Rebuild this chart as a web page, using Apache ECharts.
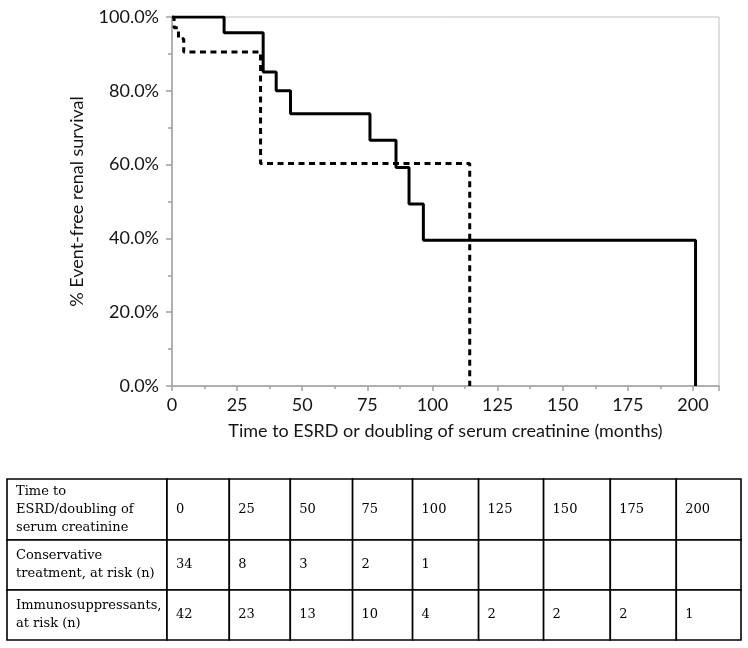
<!DOCTYPE html>
<html><head><meta charset="utf-8">
<script src="https://cdn.jsdelivr.net/npm/echarts@6/dist/echarts.min.js"></script>
<style>html,body{margin:0;padding:0;background:#fff}#c{width:748px;height:648px}</style>
</head><body><div id="c"></div>
<script>
// Kaplan-Meier curves (time in months, survival in %)
const immunoTimes = [0, 20, 35, 40, 45.5, 76, 86, 91, 96.5, 201];
const immunoSurv  = [100, 95.7, 85.1, 80, 73.8, 66.6, 59.2, 49.3, 39.5, 0];
const consTimes   = [0, 0.8, 2.5, 4.5, 34, 114.3];
const consSurv    = [100, 97.1, 94.1, 90.5, 60.3, 0];

// Number-at-risk table
const tableHeader  = 'Time to\nESRD/doubling of\nserum creatinine';
const rowLabels    = ['Conservative\ntreatment, at risk (n)', 'Immunosuppressants,\nat risk (n)'];
const tableTimes   = [0, 25, 50, 75, 100, 125, 150, 175, 200];
const consAtRisk   = [34, 8, 3, 2, 1, null, null, null, null];
const immunoAtRisk = [42, 23, 13, 10, 4, 2, 2, 2, 1];

// ---- layout (not data) ----
const ROW_EDGES = [0, 1.22, 2.22, 3.22];
const COL_EDGES = [0, 160, 222.3, 283.3, 345.6, 405.6, 471.6, 536.6, 603.3, 669.3, 734];
const AXIS_FONT = 'Lato';
const TXT = '#151515';

const zip = (a, b) => a.map((v, i) => [v, b[i]]);

// table cells: [column index, row index]
const cells = [];
const texts = [];
const tableRows = [[tableHeader, tableTimes], [rowLabels[0], consAtRisk], [rowLabels[1], immunoAtRisk]];
tableRows.forEach(([label, vals], r) => {
  cells.push([0, r]); texts.push(label);
  vals.forEach((v, i) => { cells.push([i + 1, r]); texts.push(v == null ? '' : String(v)); });
});

const chart = echarts.init(document.getElementById('c'));
chart.setOption({
  animation: false,
  backgroundColor: '#fff',
  grid: [
    { left: 172, top: 17, width: 547, height: 369, show: true, borderColor: '#c0c0c0', borderWidth: 1, backgroundColor: 'transparent' },
    { left: 7, top: 479, width: 734, height: 161 }
  ],
  xAxis: [
    {
      gridIndex: 0, type: 'value', min: 0, max: 210, interval: 25,
      name: 'Time to ESRD or doubling of serum creatinine (months)',
      nameLocation: 'middle', nameGap: 36,
      nameTextStyle: { fontFamily: AXIS_FONT, fontSize: 18, color: TXT },
      axisLine: { show: true, lineStyle: { color: '#a0a0a0', width: 1.5 } },
      axisTick: { show: true, length: 5, lineStyle: { color: '#a0a0a0', width: 1.5 } },
      minorTick: { show: true, splitNumber: 2, length: 3, lineStyle: { color: '#a0a0a0', width: 1.5 } },
      axisLabel: { fontFamily: AXIS_FONT, fontSize: 18, color: TXT, margin: 10, showMaxLabel: false,
                   formatter: v => (v % 25 === 0 ? String(v) : '') },
      splitLine: { show: false }
    },
    { gridIndex: 1, type: 'value', min: 0, max: COL_EDGES[COL_EDGES.length - 1], show: false }
  ],
  yAxis: [
    {
      gridIndex: 0, type: 'value', min: 0, max: 100, interval: 20,
      name: '% Event-free renal survival',
      nameLocation: 'middle', nameGap: 86, nameRotate: 90,
      nameTextStyle: { fontFamily: AXIS_FONT, fontSize: 18, color: TXT },
      axisLine: { show: true, lineStyle: { color: '#a0a0a0', width: 1.5 } },
      axisTick: { show: true, length: 6, lineStyle: { color: '#a0a0a0', width: 1.5 } },
      minorTick: { show: true, splitNumber: 2, length: 4, lineStyle: { color: '#a0a0a0', width: 1.5 } },
      axisLabel: { fontFamily: AXIS_FONT, fontSize: 18, color: TXT, margin: 13,
                   formatter: v => v.toFixed(1) + '%' },
      splitLine: { show: false }
    },
    { gridIndex: 1, type: 'value', min: 0, max: ROW_EDGES[ROW_EDGES.length - 1], inverse: true, show: false }
  ],
  series: [
    {
      type: 'line', xAxisIndex: 0, yAxisIndex: 0, step: 'end', symbol: 'none',
      data: zip(consTimes, consSurv),
      lineStyle: { color: '#000', width: 3, type: [6, 4.5] }
    },
    {
      type: 'line', xAxisIndex: 0, yAxisIndex: 0, step: 'end', symbol: 'none',
      data: zip(immunoTimes, immunoSurv),
      lineStyle: { color: '#000', width: 3 }
    },
    {
      type: 'custom', xAxisIndex: 1, yAxisIndex: 1, clip: false,
      data: cells,
      encode: { x: 0, y: 1 },
      renderItem: function (params, api) {
        const c = api.value(0), r = api.value(1);
        const p0 = api.coord([COL_EDGES[c], ROW_EDGES[r]]);
        const p1 = api.coord([COL_EDGES[c + 1], ROW_EDGES[r + 1]]);
        return {
          type: 'group',
          children: [
            { type: 'rect', shape: { x: p0[0], y: p0[1], width: p1[0] - p0[0], height: p1[1] - p0[1] },
              style: { fill: '#fff', stroke: '#000', lineWidth: 1.6 } },
            { type: 'text', x: p0[0] + 9, y: (p0[1] + p1[1]) / 2,
              style: { text: texts[params.dataIndex], fill: '#000', fontFamily: 'DejaVu Serif', fontSize: 13,
                       lineHeight: 18, align: 'left', verticalAlign: 'middle' } }
          ]
        };
      }
    }
  ]
});
</script>
</body></html>
